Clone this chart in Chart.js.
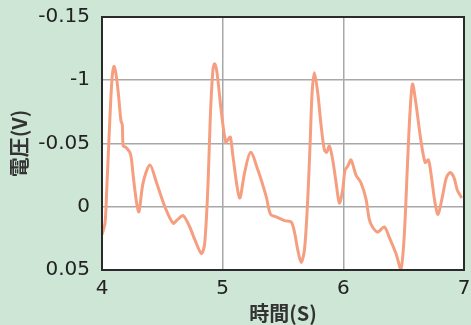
<!DOCTYPE html>
<html>
<head>
<meta charset="utf-8">
<script src="https://cdn.jsdelivr.net/npm/chart.js@4"></script>
<style>
  html, body { margin: 0; padding: 0; background: #cde6d5; }
  #wrap { width: 471px; height: 325px; }
</style>
</head>
<body>
<div id="wrap"><canvas id="c" width="471" height="325"></canvas></div>
<script>
// Time (s) and voltage (V) samples of the recorded waveform
const timeS = [
  4.000, 4.025, 4.039, 4.066, 4.083, 4.099, 4.116, 4.135, 4.157, 4.168,
  4.176, 4.198, 4.231, 4.245, 4.259, 4.287, 4.306, 4.341, 4.397, 4.452,
  4.521, 4.589, 4.628, 4.672, 4.727, 4.769, 4.824, 4.851, 4.879, 4.898,
  4.920, 4.934, 4.953, 4.989, 5.025, 5.044, 5.064, 5.085, 5.140, 5.182,
  5.231, 5.292, 5.361, 5.397, 5.444, 5.512, 5.568, 5.595, 5.622, 5.650,
  5.678, 5.705, 5.725, 5.741, 5.760, 5.788, 5.816, 5.843, 5.862, 5.884,
  5.912, 5.940, 5.967, 5.994, 6.014, 6.036, 6.064, 6.105, 6.146, 6.188,
  6.215, 6.242, 6.284, 6.339, 6.380, 6.436, 6.477, 6.504, 6.531, 6.551,
  6.573, 6.601, 6.642, 6.678, 6.705, 6.725, 6.760, 6.785, 6.821, 6.854,
  6.884, 6.917, 6.945, 6.981
];
const voltageV = [
   0.022,  0.013, -0.013, -0.071, -0.101, -0.111, -0.105, -0.090, -0.068, -0.065,
  -0.048, -0.047, -0.043, -0.037, -0.024, -0.003,  0.004, -0.019, -0.033, -0.019,
   0.000,  0.013,  0.010,  0.007,  0.016,  0.026,  0.037,  0.029, -0.019, -0.072,
  -0.109, -0.113, -0.106, -0.075, -0.051, -0.053, -0.055, -0.040, -0.007, -0.027,
  -0.043, -0.029, -0.008,  0.006,  0.008,  0.011,  0.012,  0.020,  0.034,  0.044,
   0.034, -0.006, -0.051, -0.090, -0.106, -0.090, -0.064, -0.045, -0.043, -0.048,
  -0.037, -0.019, -0.003, -0.013, -0.029, -0.032, -0.037, -0.025, -0.019, -0.006,
   0.010,  0.016,  0.020,  0.016,  0.024,  0.037,  0.049,  0.024, -0.032, -0.072,
  -0.097, -0.082, -0.053, -0.035, -0.037, -0.027, -0.003,  0.006, -0.008, -0.023,
  -0.027, -0.023, -0.013, -0.007
];
// Axis ticks and the labels printed at them
const xTickValues = [4, 5, 6, 7];
const xTickLabels = ['4', '5', '6', '7'];
const yTickValues = [-0.15, -0.1, -0.05, 0, 0.05];
const yTickLabels = ['-0.15', '-1', '-0.05', '0', '0.05'];

const points = timeS.map((t, i) => ({ x: t, y: voltageV[i] }));

function labelFor(values, labels, v) {
  let best = 0;
  values.forEach((tv, i) => { if (Math.abs(tv - v) < Math.abs(values[best] - v)) best = i; });
  return labels[best];
}

// White plotting area with a dark frame around it
const frame = {
  id: 'frame',
  beforeDraw(chart) {
    const { ctx, chartArea: a } = chart;
    ctx.save();
    ctx.fillStyle = '#ffffff';
    ctx.fillRect(a.left, a.top, a.right - a.left, a.bottom - a.top);
    ctx.restore();
  },
  afterDraw(chart) {
    const { ctx, chartArea: a } = chart;
    ctx.save();
    ctx.strokeStyle = '#2b2b2b';
    ctx.lineWidth = 2;
    ctx.strokeRect(a.left, a.top, a.right - a.left, a.bottom - a.top);
    ctx.restore();
  }
};

const tickFont = { family: "'DejaVu Sans'", size: 20 };
const titleFont = { family: "'Noto Sans CJK JP'", size: 20, weight: 'bold' };

new Chart(document.getElementById('c'), {
  type: 'line',
  data: {
    datasets: [{
      data: points,
      borderColor: '#f59f80',
      borderWidth: 3,
      pointRadius: 0,
      tension: 0.3,
      fill: false
    }]
  },
  options: {
    responsive: false,
    animation: false,
    layout: { padding: { top: 17, right: 7, bottom: 0, left: 0 } },
    plugins: { legend: { display: false }, tooltip: { enabled: false } },
    scales: {
      x: {
        type: 'linear',
        min: 4, max: 7,
        afterFit(s) { s.height = 55; s.paddingLeft = 0; s.paddingRight = 0; },
        ticks: {
          stepSize: 1,
          padding: 7,
          color: '#222',
          font: tickFont,
          callback: v => labelFor(xTickValues, xTickLabels, v)
        },
        grid: { color: '#a8a8a8', lineWidth: 1.5, drawTicks: false },
        border: { display: false },
        title: { display: true, text: '時間(S)', color: '#333', font: titleFont, padding: { top: 0, bottom: 0 } }
      },
      y: {
        type: 'linear',
        reverse: true,
        min: -0.15, max: 0.05,
        afterFit(s) { s.width = 102; s.paddingTop = 0; s.paddingBottom = 0; },
        ticks: {
          stepSize: 0.05,
          padding: 12,
          color: '#222',
          font: tickFont,
          callback: v => labelFor(yTickValues, yTickLabels, v)
        },
        grid: { color: '#a8a8a8', lineWidth: 1.5, drawTicks: false },
        border: { display: false },
        title: { display: true, text: '電圧(V)', color: '#333', font: titleFont, padding: { top: 7, bottom: 0 } }
      }
    }
  },
  plugins: [frame]
});
</script>
</body>
</html>
